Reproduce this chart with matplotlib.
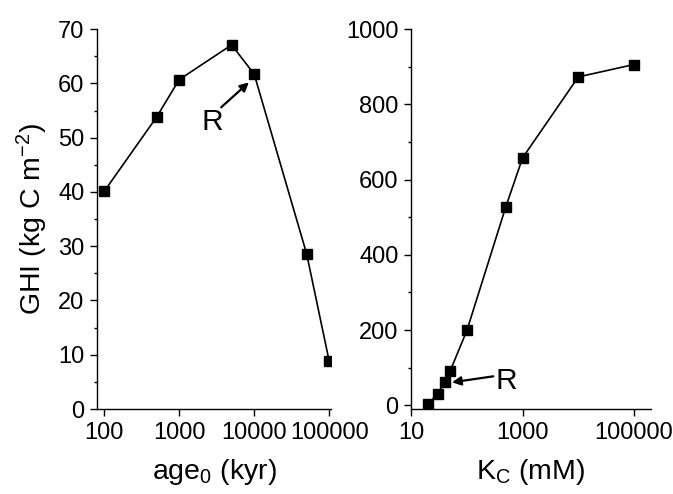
import matplotlib
matplotlib.use("Agg")
import matplotlib.pyplot as plt
from matplotlib.ticker import FixedLocator, FuncFormatter, LogLocator, MultipleLocator, NullFormatter

plt.rcParams['font.family'] = ['Liberation Sans', 'DejaVu Sans']
plt.rcParams['mathtext.fontset'] = 'custom'
plt.rcParams['mathtext.rm'] = 'Liberation Sans'
plt.rcParams['mathtext.it'] = 'Liberation Sans'
plt.rcParams['mathtext.bf'] = 'Liberation Sans'

# Left panel data
age0 = [100, 500, 1000, 5000, 10000, 50000, 100000]
ghi_age = [40.1, 53.8, 60.7, 67.1, 61.7, 28.6, 8.8]

# Right panel data
kc = [20, 30, 40, 50, 100, 500, 1000, 10000, 100000]
ghi_kc = [3, 31, 62, 91, 199, 528, 658, 873, 906]

left_xticks = [100, 1000, 10000, 100000]
right_xticks = [10, 1000, 100000]

fig = plt.figure(figsize=(6.73, 4.94), dpi=100)
ax1 = fig.add_axes([0.144, 0.172, 0.348, 0.769])
ax2 = fig.add_axes([0.611, 0.172, 0.356, 0.769])

for ax in (ax1, ax2):
    ax.spines['top'].set_visible(False)
    ax.spines['right'].set_visible(False)
    ax.spines['left'].set_linewidth(1.0)
    ax.spines['bottom'].set_linewidth(1.0)
    ax.set_xscale('log')
    ax.tick_params(which='major', direction='out', length=5, width=1.0, labelsize=17, pad=4)
    ax.tick_params(which='minor', direction='out', length=2.5, width=1.0)

ax1.plot(age0, ghi_age, color='black', lw=1.2, marker='s', ms=6.5)
ax1.set_xlim(80, 106000)
ax1.set_ylim(0, 70)
ax1.yaxis.set_major_locator(MultipleLocator(10))
ax1.yaxis.set_minor_locator(MultipleLocator(5))
ax1.xaxis.set_major_locator(FixedLocator(left_xticks))
ax1.xaxis.set_minor_locator(LogLocator(base=10, subs=range(2, 10)))
ax1.xaxis.set_major_formatter(FuncFormatter(lambda v, p: f"{int(round(v))}"))
ax1.xaxis.set_minor_formatter(NullFormatter())
ax1.set_xlabel("age$_0$ (kyr)", fontsize=20.5, labelpad=10)
ax1.set_ylabel("GHI (kg C m$^{-2}$)", fontsize=20.5, labelpad=6)
ax1.text(2760, 52.9, "R", fontsize=21.5, ha='center', va='center')
ax1.annotate("", xy=(8500, 60.2), xytext=(3630, 55.6),
             arrowprops=dict(arrowstyle='-|>', color='black', lw=1.6,
                             mutation_scale=13, shrinkA=0, shrinkB=0))

ax2.plot(kc, ghi_kc, color='black', lw=1.2, marker='s', ms=6.5)
ax2.set_xlim(10, 200000)
ax2.set_ylim(-10, 1000)
ax2.yaxis.set_major_locator(MultipleLocator(200))
ax2.yaxis.set_minor_locator(MultipleLocator(100))
ax2.xaxis.set_major_locator(LogLocator(base=10, subs=(1.0,)))
ax2.xaxis.set_minor_locator(LogLocator(base=10, subs=range(2, 10)))
ax2.xaxis.set_major_formatter(FuncFormatter(lambda v, p: f"{int(round(v))}" if int(round(v)) in right_xticks else ""))
ax2.xaxis.set_minor_formatter(NullFormatter())
ax2.set_xlabel("K$_\\mathrm{C}$ (mM)", fontsize=20.5, labelpad=10)
ax2.text(513, 64, "R", fontsize=21.5, ha='center', va='center')
ax2.annotate("", xy=(54, 61), xytext=(298, 77),
             arrowprops=dict(arrowstyle='-|>', color='black', lw=1.6,
                             mutation_scale=13, shrinkA=0, shrinkB=0))

fig.savefig("out.png", dpi=100)
